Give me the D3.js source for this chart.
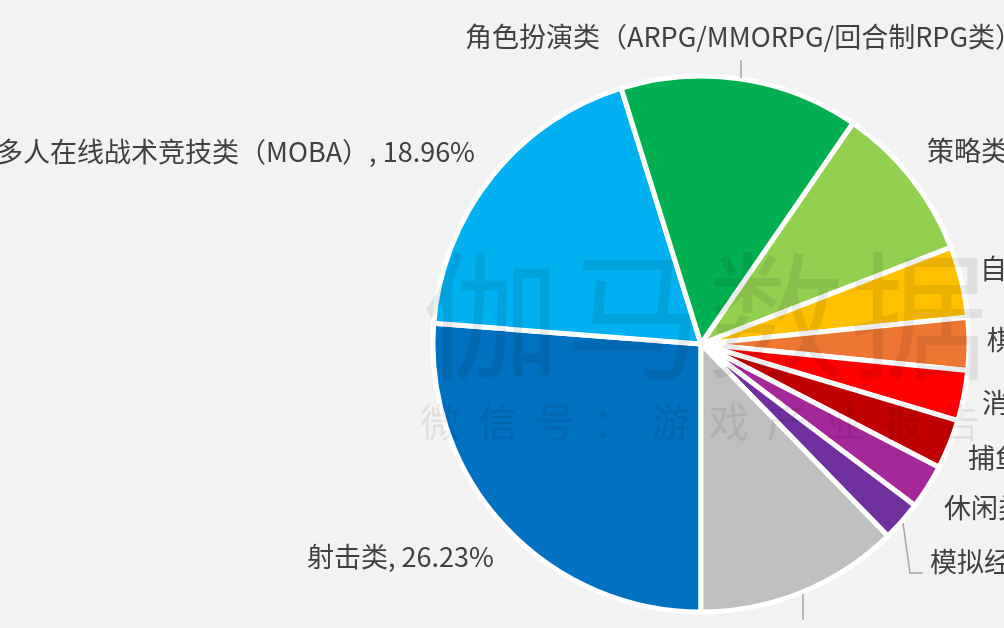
<!DOCTYPE html>
<html>

<head>
    <meta charset="utf-8">
    <title>游戏类型占比</title>
    <script src="https://cdn.jsdelivr.net/npm/d3@7"></script>
    <style>
        html, body {
            margin: 0;
            padding: 0;
            overflow: hidden;
            background: #f2f2f2;
        }
        svg {
            display: block;
            filter: blur(0.5px);
        }
        text {
            font-family: "Noto Sans CJK SC", "Noto Sans", sans-serif;
        }
    </style>
</head>

<body>
    <svg width="1004" height="628"></svg>
    <script>
        // 数值，单位 %
        const categories = ['射击类', '多人在线战术竞技类（MOBA）', '角色扮演类（ARPG/MMORPG/回合制RPG类）', '策略类', '自走棋类', '棋牌类', '消除类', '捕鱼类', '休闲类', '模拟经营类', '其他']
        const shares = [26.23, 18.96, 14.41, 9.53, 4.28, 3.17, 3.03, 3.0, 2.69, 2.42, 12.28]
        const colors = ['#0070c0', '#00b0f0', '#00b050', '#92d050', '#ffc000', '#ed7633', '#ff0000', '#c00000', '#a5289a', '#7030a0', '#bfbfbf']
        const labelPos = [
            [307, 557], [-4, 152], [465, 37], [927, 151], [980, 269], [987, 340],
            [982, 403], [968, 458], [944, 508], [930, 562], [700, 644]
        ]
        const leaders = [
            [[741, 60], [741, 78]],
            [[903, 523], [910, 573], [923, 573]],
            [[803, 594], [803, 620]]
        ]

        const CX = 701
        const CY = 344
        const R = 268

        const svg = d3.select('svg')
        const chart = svg.append('g').attr('transform', `translate(${CX},${CY})`)

        // 从 6 点钟方向开始顺时针
        const pie = d3.pie().sort(null).value(d => d).startAngle(Math.PI).endAngle(3 * Math.PI)
        const arc = d3.arc().innerRadius(0).outerRadius(R)

        chart.selectAll('path')
            .data(pie(shares))
            .join('path')
            .attr('d', arc)
            .attr('fill', (d, i) => colors[i])
            .attr('stroke', '#fff')
            .attr('stroke-width', 5)
            .attr('stroke-linejoin', 'round')

        svg.selectAll('.leader')
            .data(leaders)
            .join('path')
            .attr('class', 'leader')
            .attr('d', d3.line())
            .attr('fill', 'none')
            .attr('stroke', '#a6a6a6')
            .attr('stroke-width', 1.5)

        svg.selectAll('.label')
            .data(categories)
            .join('text')
            .attr('class', 'label')
            .attr('x', (d, i) => labelPos[i][0])
            .attr('y', (d, i) => labelPos[i][1])
            .attr('dy', '0.36em')
            .attr('font-size', 27)
            .attr('fill', '#404040')
            .text((d, i) => `${d}, ${shares[i]}%`)

        // 水印
        svg.append('text')
            .attr('x', 705)
            .attr('y', 368)
            .attr('text-anchor', 'middle')
            .attr('font-size', 138)
            .attr('fill', '#000')
            .attr('fill-opacity', 0.08)
            .attr('textLength', 566)
            .text('伽马数据')
        svg.append('text')
            .attr('x', 700)
            .attr('y', 437)
            .attr('text-anchor', 'middle')
            .attr('font-size', 40)
            .attr('fill', '#000')
            .attr('fill-opacity', 0.08)
            .attr('textLength', 560)
            .text('微信号：游戏产业报告')
    </script>
</body>

</html>
